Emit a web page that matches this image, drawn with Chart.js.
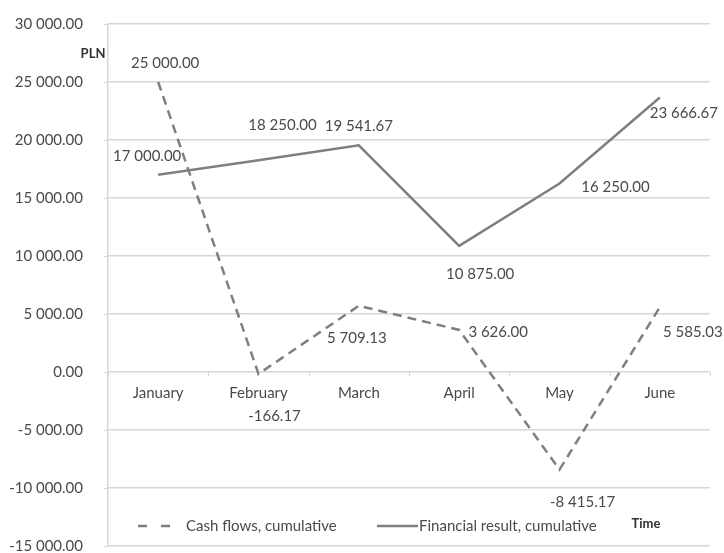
<!DOCTYPE html>
<html>
<head>
<meta charset="utf-8">
<script src="https://cdn.jsdelivr.net/npm/chart.js@4"></script>
<style>
html, body { margin: 0; padding: 0; background: #fff; }
#wrap { width: 724px; height: 553px; }
</style>
</head>
<body>
<div id="wrap"><canvas id="resultChart" width="724" height="553"></canvas></div>
<script>
const months = ["January", "February", "March", "April", "May", "June"];
const cashFlows = [25000, -166.17, 5709.13, 3626, -8415.17, 5585.03];
const financialResult = [17000, 18250, 19541.67, 10875, 16250, 23666.67];
const yMin = -15000;
const yMax = 30000;
const yStep = 5000;

const FONT = "Lato, 'Open Sans', sans-serif";
const TEXT = "#4a4a4a";
const LINE = "#7f7f7f";
const GRID = "#d6d6d6";

// "25 000.00" style numbers
function fmt(v) {
    const s = Math.abs(v).toFixed(2);
    const parts = s.split(".");
    const int = parts[0].replace(/\B(?=(\d{3})+(?!\d))/g, " ");
    return (v < 0 ? "-" : "") + int + "." + parts[1];
}

// label offsets (px) from each point, per dataset
const labelShift = [
    [[7, -19], [16, 42], [-2, 32], [39, 2], [23, 33], [33, 25]],
    [[-11, -19], [24, -35], [0, -19], [21, 28], [56, 4], [24, 16]]
];

const decor = {
    id: "decor",
    afterDatasetsDraw(chart) {
        const ctx = chart.ctx;
        const x = chart.scales.x;
        const y = chart.scales.y;
        const area = chart.chartArea;
        const zero = y.getPixelForValue(0);
        ctx.save();

        ctx.strokeStyle = GRID;
        ctx.lineWidth = 1;
        // short ticks left of the value axis
        y.ticks.forEach(t => {
            const py = Math.round(y.getPixelForValue(t.value)) + 0.5;
            ctx.beginPath();
            ctx.moveTo(area.left - 4, py);
            ctx.lineTo(area.left, py);
            ctx.stroke();
        });
        // category axis sits on the zero line
        const step = (area.right - area.left) / months.length;
        for (let i = 0; i <= months.length; i++) {
            const px = Math.round(area.left + i * step) + 0.5;
            ctx.beginPath();
            ctx.moveTo(px, zero);
            ctx.lineTo(px, zero + 4);
            ctx.stroke();
        }
        ctx.fillStyle = TEXT;
        ctx.font = "15px " + FONT;
        ctx.textAlign = "center";
        ctx.textBaseline = "middle";
        months.forEach((m, i) => {
            ctx.fillText(m, x.getPixelForValue(i), zero + 21);
        });

        // value labels
        chart.data.datasets.forEach((ds, d) => {
            const meta = chart.getDatasetMeta(d);
            meta.data.forEach((pt, i) => {
                const sh = labelShift[d][i];
                ctx.fillText(fmt(ds.data[i]), pt.x + sh[0], pt.y + sh[1]);
            });
        });

        // axis titles
        ctx.font = "bold 13px " + FONT;
        ctx.fillStyle = "#333";
        ctx.fillText("PLN", 93, 54);
        ctx.fillText("Time", 646, 524);

        // legend inside the plot
        const ly = 526;
        const items = [[138, 172, 186, [9, 14]], [377, 418, 419, []]];
        ctx.font = "15px " + FONT;
        ctx.textAlign = "left";
        ctx.fillStyle = TEXT;
        chart.data.datasets.forEach((ds, d) => {
            const it = items[d];
            ctx.strokeStyle = ds.borderColor;
            ctx.lineWidth = ds.borderWidth;
            ctx.setLineDash(it[3]);
            ctx.beginPath();
            ctx.moveTo(it[0], ly);
            ctx.lineTo(it[1], ly);
            ctx.stroke();
            ctx.setLineDash([]);
            ctx.fillText(ds.label, it[2], ly);
        });
        ctx.restore();
    }
};

new Chart(document.getElementById("resultChart"), {
    type: "line",
    data: {
        labels: months,
        datasets: [
            {
                label: "Cash flows, cumulative",
                data: cashFlows,
                borderColor: LINE,
                borderWidth: 2.5,
                borderDash: [9, 6],
                pointRadius: 0,
                tension: 0
            },
            {
                label: "Financial result, cumulative",
                data: financialResult,
                borderColor: LINE,
                borderWidth: 2.5,
                pointRadius: 0,
                tension: 0
            }
        ]
    },
    options: {
        responsive: false,
        animation: false,
        devicePixelRatio: 1,
        events: [],
        layout: { padding: { top: 24, right: 14, bottom: 7, left: 0 } },
        plugins: {
            legend: { display: false },
            tooltip: { enabled: false }
        },
        scales: {
            x: {
                display: false,
                offset: true
            },
            y: {
                min: yMin,
                max: yMax,
                afterFit(scale) { scale.width = 108; },
                ticks: {
                    stepSize: yStep,
                    padding: 1,
                    color: TEXT,
                    font: { family: FONT, size: 15, lineHeight: 0.8 },
                    callback: v => fmt(v)
                },
                grid: {
                    color: GRID,
                    lineWidth: 1.5,
                    tickLength: 24,
                    tickColor: "rgba(0,0,0,0)"
                },
                border: { color: GRID, width: 1.5 }
            }
        }
    },
    plugins: [decor]
});
</script>
</body>
</html>
